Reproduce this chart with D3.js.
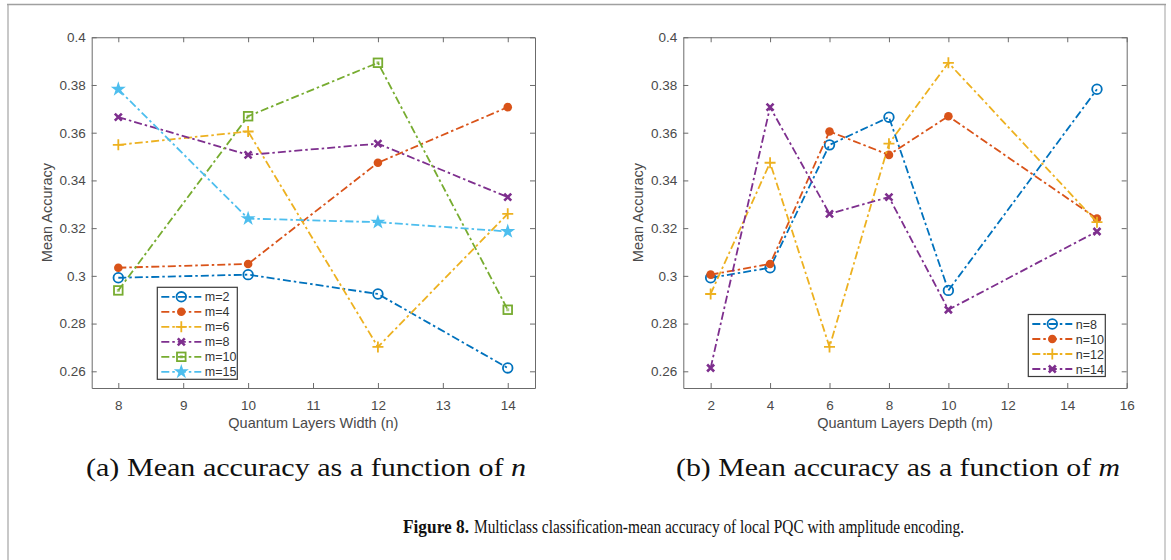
<!DOCTYPE html>
<html>
<head>
<meta charset="utf-8">
<script src="https://cdn.jsdelivr.net/npm/d3@7"></script>
<style>
  body { margin: 0; background: #fff; }
  svg { display: block; font-family: "Liberation Sans", Arial, sans-serif; }
</style>
</head>
<body>
<svg class="chart" width="1171" height="560"></svg>
<script>
// values
// one array per depth m, one value per width n
const widthN = [8, 10, 12, 14]
const depthM = [2, 4, 6, 8, 10, 15]

const accM2 = [0.2992, 0.3005, 0.2924, 0.2614]
const accM4 = [0.3034, 0.3050, 0.3474, 0.3707]
const accM6 = [0.3549, 0.3605, 0.2702, 0.3260]
const accM8 = [0.3665, 0.3507, 0.3554, 0.3330]
const accM10 = [0.2939, 0.3669, 0.3893, 0.2858]
const accM15 = [0.3782, 0.3240, 0.3225, 0.3186]
const accByDepth = [accM2, accM4, accM6, accM8, accM10, accM15]

const yTicks = [0.26, 0.28, 0.3, 0.32, 0.34, 0.36, 0.38, 0.4]
const xTicksA = [8, 9, 10, 11, 12, 13, 14]
const xTicksB = [2, 4, 6, 8, 10, 12, 14, 16]

const seriesColors = ["#0072BD", "#D95319", "#EDB120", "#7E2F8E", "#77AC30", "#4DBEEE"]
const seriesMarkers = ["circle", "dot", "plus", "cross", "square", "star"]

const svg = d3.select("svg.chart")

// page frame
svg.append("line")
    .attr("x1", 8).attr("x2", 8).attr("y1", 4).attr("y2", 560)
    .attr("stroke", "#c8c8c8").attr("stroke-width", 2)
svg.append("line")
    .attr("x1", 1165).attr("x2", 1165).attr("y1", 4).attr("y2", 560)
    .attr("stroke", "#d0d0d0").attr("stroke-width", 2)
svg.append("line")
    .attr("x1", 7).attr("x2", 1166).attr("y1", 4.5).attr("y2", 4.5)
    .attr("stroke", "#a0a0a0").attr("stroke-width", 1.5)

// series for both panels, (b) is the same table read the other way
const seriesA = depthM.map((m, i) => {
    return {
        label: "m=" + m,
        color: seriesColors[i],
        marker: seriesMarkers[i],
        values: accByDepth[i].map((v, j) => {return {x: widthN[j], y: v}})
    }
})
const seriesB = widthN.map((n, j) => {
    return {
        label: "n=" + n,
        color: seriesColors[j],
        marker: seriesMarkers[j],
        values: depthM.map((m, i) => {return {x: m, y: accByDepth[i][j]}})
    }
})

const drawMarker = function(g, type, color) {
    if (type == "circle") {
        g.append("circle").attr("r", 4.8)
            .attr("fill", "none").attr("stroke", color).attr("stroke-width", 1.8)
    } else if (type == "dot") {
        g.append("circle").attr("r", 4.3).attr("fill", color)
    } else if (type == "plus") {
        g.append("path").attr("d", "M-5.5,0H5.5M0,-5.5V5.5")
            .attr("stroke", color).attr("stroke-width", 1.8)
    } else if (type == "cross") {
        g.append("path").attr("d", "M-3.5,-3.5L3.5,3.5M-3.5,3.5L3.5,-3.5")
            .attr("stroke", color).attr("stroke-width", 2.6)
    } else if (type == "square") {
        g.append("rect").attr("x", -4.3).attr("y", -4.3).attr("width", 8.6).attr("height", 8.6)
            .attr("fill", "none").attr("stroke", color).attr("stroke-width", 1.8)
        g.append("rect").attr("x", -1.5).attr("y", -1.5).attr("width", 3).attr("height", 3)
            .attr("fill", color).attr("opacity", 0.6)
    } else if (type == "star") {
        g.append("path").attr("d", d3.symbol(d3.symbolStar, 70)())
            .attr("fill", color)
    }
}

const dashStyle = "8,3,2.5,3"
const axisColor = "#6b6b6b"
const tickTextColor = "#4a4a4a"

const drawPanel = function(cfg) {
    const scaleX = d3.scaleLinear().domain(cfg.xDomain).range([cfg.left, cfg.right])
    const scaleY = d3.scaleLinear().domain([0.253, 0.4]).range([cfg.bottom, cfg.top])
    const panel = svg.append("g")

    const yFormat = (d) => {return String(+d.toFixed(2))}

    panel.append("g")
        .attr("transform", `translate(0, ${cfg.bottom})`)
        .call(d3.axisBottom(scaleX).tickValues(cfg.xTicks).tickFormat(d3.format("d"))
            .tickSizeInner(-5).tickSizeOuter(0).tickPadding(12))
    panel.append("g")
        .attr("transform", `translate(0, ${cfg.top})`)
        .call(d3.axisTop(scaleX).tickValues(cfg.xTicks)
            .tickSizeInner(-5).tickSizeOuter(0).tickFormat(""))
    panel.append("g")
        .attr("transform", `translate(${cfg.left}, 0)`)
        .call(d3.axisLeft(scaleY).tickValues(yTicks)
            .tickSizeInner(-5).tickSizeOuter(0).tickPadding(6).tickFormat(yFormat))
    panel.append("g")
        .attr("transform", `translate(${cfg.right}, 0)`)
        .call(d3.axisRight(scaleY).tickValues(yTicks)
            .tickSizeInner(-5).tickSizeOuter(0).tickFormat(""))

    panel.selectAll(".domain, .tick line").attr("stroke", axisColor)
    panel.selectAll(".tick text")
        .attr("fill", tickTextColor)
        .style("font-size", "13.5px")
        .style("font-family", "Liberation Sans, Arial, sans-serif")

    // axis titles
    panel.append("text")
        .attr("x", (cfg.left + cfg.right) / 2)
        .attr("y", 428)
        .attr("text-anchor", "middle")
        .attr("fill", tickTextColor)
        .style("font-size", "14.5px")
        .text(cfg.xLabel)
    panel.append("text")
        .attr("transform", `translate(${cfg.left - 40}, ${(cfg.top + cfg.bottom) / 2}) rotate(-90)`)
        .attr("text-anchor", "middle")
        .attr("fill", tickTextColor)
        .style("font-size", "14.5px")
        .text("Mean Accuracy")

    // lines and markers
    const line = d3.line()
        .x((d) => {return scaleX(d.x)})
        .y((d) => {return scaleY(d.y)})

    const groups = panel.selectAll("g.series")
        .data(cfg.series)
        .enter().append("g")
        .attr("class", "series")

    groups.append("path")
        .attr("d", (d) => {return line(d.values)})
        .attr("fill", "none")
        .attr("stroke", (d) => {return d.color})
        .attr("stroke-width", 1.8)
        .attr("stroke-dasharray", dashStyle)

    groups.each(function(s) {
        const g = d3.select(this)
        s.values.forEach((p) => {
            const mg = g.append("g")
                .attr("transform", `translate(${scaleX(p.x)}, ${scaleY(p.y)})`)
            drawMarker(mg, s.marker, s.color)
        })
    })

    // legend
    const lg = cfg.legend
    panel.append("rect")
        .attr("x", lg.x).attr("y", lg.y)
        .attr("width", lg.w).attr("height", lg.h)
        .attr("fill", "#fff").attr("stroke", "#3a3a3a").attr("stroke-width", 1.2)

    cfg.series.forEach((s, i) => {
        const rowY = lg.y + 9.5 + i * 15
        panel.append("line")
            .attr("x1", lg.x + 4).attr("x2", lg.x + 44)
            .attr("y1", rowY).attr("y2", rowY)
            .attr("stroke", s.color).attr("stroke-width", 1.8)
            .attr("stroke-dasharray", dashStyle)
        const mg = panel.append("g").attr("transform", `translate(${lg.x + 24}, ${rowY})`)
        drawMarker(mg, s.marker, s.color)
        panel.append("text")
            .attr("x", lg.x + 47.5)
            .attr("y", rowY + 4.5)
            .attr("fill", "#333")
            .style("font-size", "12.5px")
            .text(s.label)
    })
}

drawPanel({
    left: 91.7, right: 535, top: 37.25, bottom: 388,
    xDomain: [7.59, 14.42], xTicks: xTicksA,
    xLabel: "Quantum Layers Width (n)",
    series: seriesA,
    legend: {x: 157.3, y: 287.3, w: 80, h: 92}
})

drawPanel({
    left: 683.3, right: 1126.7, top: 37.25, bottom: 388,
    xDomain: [1.08, 16], xTicks: xTicksB,
    xLabel: "Quantum Layers Depth (m)",
    series: seriesB,
    legend: {x: 1028.3, y: 314.5, w: 77, h: 62}
})

// sub captions, stretched to the width they take in the picture
const subA = svg.append("text")
    .attr("x", 86).attr("y", 476)
    .attr("textLength", 440).attr("lengthAdjust", "spacingAndGlyphs")
    .style("font-family", "Liberation Serif, serif")
    .style("font-size", "26px")
    .attr("fill", "#111")
subA.append("tspan").text("(a) Mean accuracy as a function of ")
subA.append("tspan").style("font-style", "italic").text("n")

const subB = svg.append("text")
    .attr("x", 676).attr("y", 476)
    .attr("textLength", 444).attr("lengthAdjust", "spacingAndGlyphs")
    .style("font-family", "Liberation Serif, serif")
    .style("font-size", "26px")
    .attr("fill", "#111")
subB.append("tspan").text("(b) Mean accuracy as a function of ")
subB.append("tspan").style("font-style", "italic").text("m")

// figure caption, bold label and body as two texts
svg.append("text")
    .attr("x", 403).attr("y", 533)
    .attr("textLength", 66).attr("lengthAdjust", "spacingAndGlyphs")
    .style("font-family", "Liberation Serif, serif")
    .style("font-size", "18px")
    .style("font-weight", "bold")
    .attr("fill", "#111")
    .text("Figure 8.")
svg.append("text")
    .attr("x", 474).attr("y", 533)
    .attr("textLength", 490).attr("lengthAdjust", "spacingAndGlyphs")
    .style("font-family", "Liberation Serif, serif")
    .style("font-size", "18px")
    .attr("fill", "#111")
    .text("Multiclass classification-mean accuracy of local PQC with amplitude encoding.")
</script>
</body>
</html>
